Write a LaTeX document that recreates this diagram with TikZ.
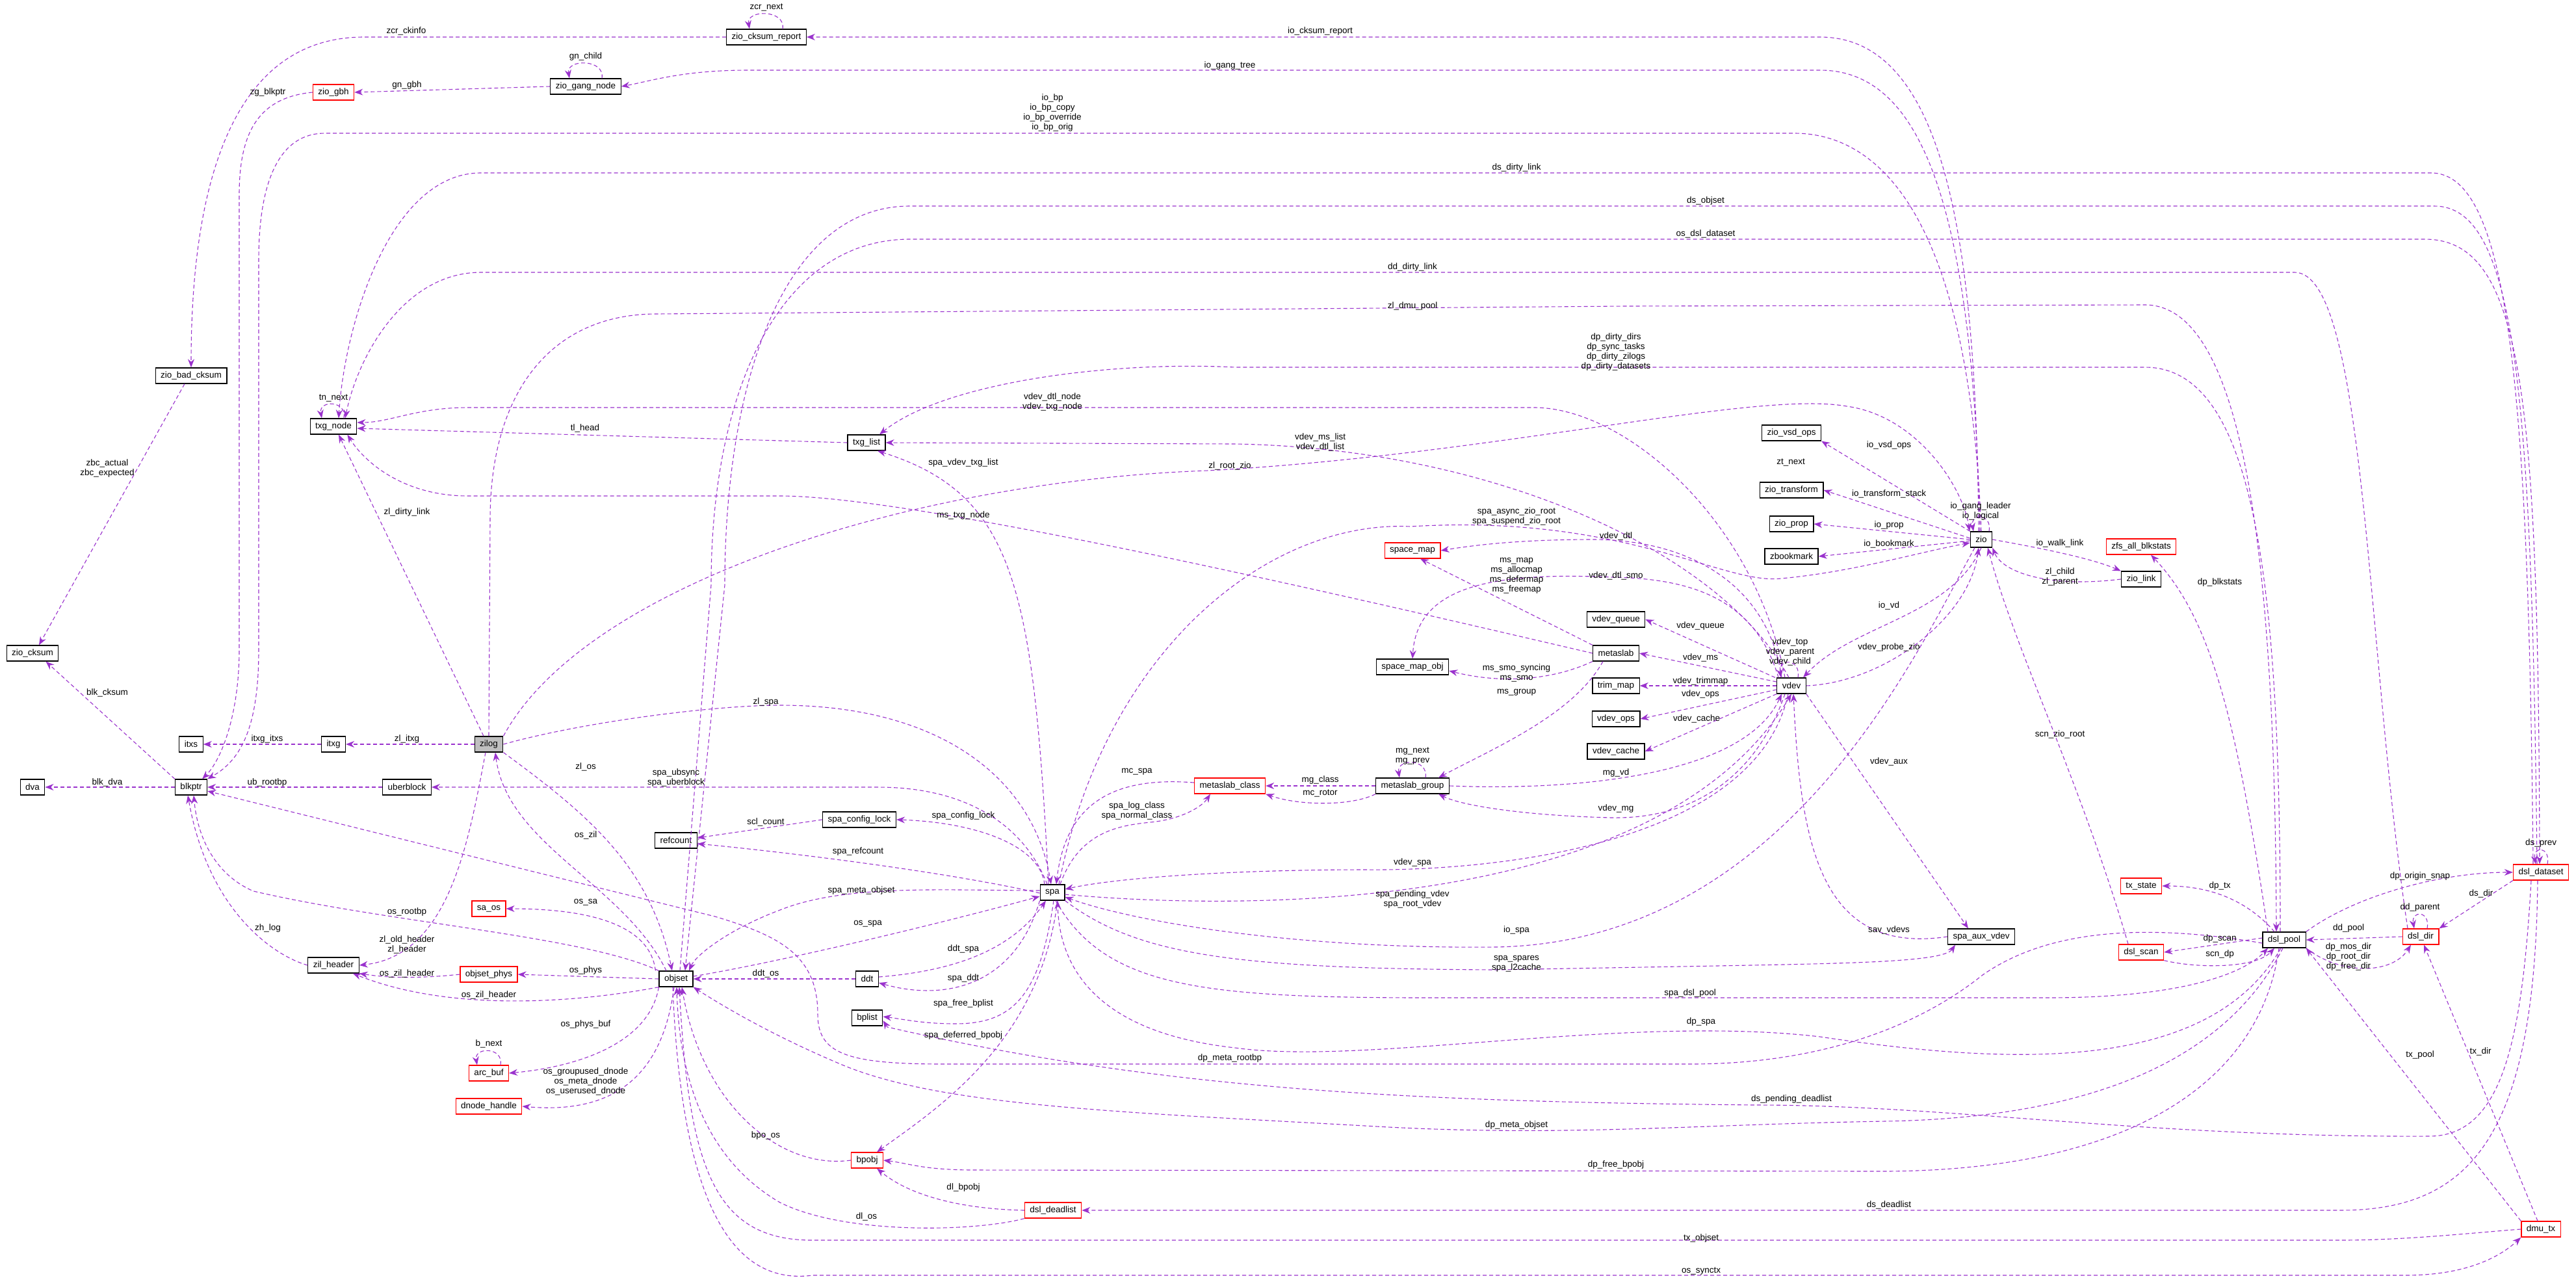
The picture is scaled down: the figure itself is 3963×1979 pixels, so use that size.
\documentclass[tikz,border=0pt]{standalone}
\usepackage{fontspec}
\setmainfont{Liberation Sans}
\usetikzlibrary{arrows.meta}
\definecolor{pc}{HTML}{9A32CD}
\newcommand\myfs{\fontsize{13.5}{15}\selectfont}
\tikzset{
 box/.style={draw=black, fill=white, font=\myfs, inner xsep=8pt, inner ysep=0pt, minimum height=24pt, line width=1.2pt},
 rbox/.style={box, draw=red},
 e/.style={draw=pc, dash pattern=on 6pt off 4pt, line width=1.1pt, -{Stealth[length=13pt,width=10pt]}},
 lb/.style={font=\myfs, inner sep=0pt, align=center}
}
\begin{document}
\begin{tikzpicture}[x=1pt,y=1pt]
\useasboundingbox (0,0) rectangle (3963,-1979);
% nodes
\node[box] (zcr) at (1179,-57) {zio\_cksum\_report};
\node[box] (zgn) at (901,-133) {zio\_gang\_node};
\node[rbox] (zgbh) at (513,-142) {zio\_gbh};
\node[box] (zbc) at (294,-578) {zio\_bad\_cksum};
\node[box] (txgn) at (513,-656) {txg\_node};
\node[box] (txgl) at (1333,-681) {txg\_list};
\node[box] (zcks) at (50,-1005) {zio\_cksum};
\node[box] (itxs) at (294,-1145) {itxs};
\node[box] (itxg) at (513,-1145) {itxg};
\node[box, fill=black!25] (zilog) at (752,-1145) {zilog};
\node[box] (dva) at (50,-1211) {dva};
\node[box] (blkptr) at (294,-1211) {blkptr};
\node[box] (ub) at (626,-1211) {uberblock};
\node[box] (refc) at (1040,-1293) {refcount};
\node[box] (scl) at (1322,-1261) {spa\_config\_lock};
\node[rbox] (saos) at (752,-1398) {sa\_os};
\node[box] (zilh) at (513,-1485) {zil\_header};
\node[rbox] (osphys) at (752,-1499) {objset\_phys};
\node[box] (objset) at (1040,-1506) {objset};
\node[rbox] (arcbuf) at (752,-1651) {arc\_buf};
\node[rbox] (dnh) at (752,-1702) {dnode\_handle};
\node[box] (ddt) at (1334,-1506) {ddt};
\node[box] (bplist) at (1334,-1566) {bplist};
\node[rbox] (bpobj) at (1334,-1785) {bpobj};
\node[rbox] (dldl) at (1620,-1862) {dsl\_deadlist};
\node[box] (spa) at (1619,-1373) {spa};
\node[rbox] (mcls) at (1892,-1209) {metaslab\_class};
\node[box] (mgrp) at (2173,-1209) {metaslab\_group};
\node[box] (smo) at (2173,-1026) {space\_map\_obj};
\node[box] (msl) at (2486,-1005) {metaslab};
\node[box] (trim) at (2486,-1055) {trim\_map};
\node[box] (vops) at (2486,-1106) {vdev\_ops};
\node[box] (vcache) at (2486,-1156) {vdev\_cache};
\node[rbox] (smap) at (2173,-847) {space\_map};
\node[box] (vqueue) at (2486,-953) {vdev\_queue};
\node[box] (zvsd) at (2756,-666) {zio\_vsd\_ops};
\node[box] (ztr) at (2756,-754) {zio\_transform};
\node[box] (zprop) at (2756,-806) {zio\_prop};
\node[box] (zbm) at (2756,-856) {zbookmark};
\node[box] (zio) at (3048,-830) {zio};
\node[rbox] (zfsbs) at (3294,-841) {zfs\_all\_blkstats};
\node[box] (zlink) at (3294,-891) {zio\_link};
\node[box] (vdev) at (2756,-1055) {vdev};
\node[box] (sav) at (3048,-1441) {spa\_aux\_vdev};
\node[rbox] (txst) at (3294,-1363) {tx\_state};
\node[rbox] (dscan) at (3294,-1465) {dsl\_scan};
\node[box] (dpool) at (3514,-1446) {dsl\_pool};
\node[rbox] (ddir) at (3724,-1441) {dsl\_dir};
\node[rbox] (dds) at (3909,-1342) {dsl\_dataset};
\node[rbox] (dmutx) at (3909,-1891) {dmu\_tx};

% edges
\draw[e] (zcr.west) -- (560,-57) .. controls (350,-57) and (294,-300) .. (zbc.north);
\draw[e] ([xshift=25pt]zcr.north) .. controls +(5,30) and +(-5,30) .. ([xshift=-26pt]zcr.north);
\draw[e] ([xshift=-4pt]zio.north) .. controls (3040,-400) and (3000,-57) .. (2800,-57) -- (zcr.east);
\draw[e] (zgn.west) -- (zgbh.east);
\draw[e] ([xshift=25pt]zgn.north) .. controls +(5,30) and +(-5,30) .. ([xshift=-25pt]zgn.north);
\draw[e] ([xshift=-2pt]zio.north) .. controls (3035,-300) and (2950,-108) .. (2800,-108) -- (1150,-108) .. controls (1050,-108) and (1000,-125) .. (zgn.east);
\draw[e] (zgbh.west) .. controls (400,-150) and (368,-200) .. (368,-300) -- (368,-1000) .. controls (368,-1100) and (340,-1170) .. ([xshift=-8pt]blkptr.north east);
\draw[e] (zio.north) .. controls (3030,-350) and (2900,-205) .. (2760,-205) -- (500,-205) .. controls (420,-205) and (398,-300) .. (398,-400) -- (398,-1000) .. controls (398,-1120) and (370,-1170) .. (blkptr.north east);
\draw[e] ([xshift=-12pt]dds.north) .. controls (3890,-600) and (3860,-266) .. (3740,-266) -- (740,-266) .. controls (600,-266) and (530,-500) .. ([xshift=8pt]txgn.north);
\draw[e] ([xshift=-6pt]dds.north) .. controls (3895,-600) and (3870,-317) .. (3745,-317) -- (1400,-317) .. controls (1200,-317) and (1115,-600) .. (1115,-900) -- ([xshift=14pt]objset.north);
\draw[e] ([xshift=6pt]objset.north) -- (1094,-900) .. controls (1094,-600) and (1200,-368) .. (1400,-368) -- (3730,-368) .. controls (3880,-368) and (3905,-600) .. ([xshift=-2pt]dds.north);
\draw[e] ([xshift=-20pt]ddir.north) .. controls (3640,-1000) and (3640,-419) .. (3530,-419) -- (740,-419) .. controls (620,-419) and (550,-550) .. ([xshift=18pt]txgn.north);
\draw[e] (zilog.north) -- (754,-800) .. controls (754,-600) and (850,-483) .. (1010,-483) -- (2500,-471) -- (3300,-469) .. controls (3460,-469) and (3500,-900) .. ([xshift=-12pt]dpool.north);
\draw[e] ([xshift=-6pt]dpool.north) .. controls (3508,-900) and (3470,-565) .. (3300,-565) -- (1900,-565) .. controls (1700,-555) and (1450,-590) .. ([xshift=20pt]txgl.north);
\draw[e] ([xshift=-10pt]vdev.north) .. controls (2700,-800) and (2500,-627) .. (2360,-627) -- (720,-627) .. controls (640,-627) and (600,-650) .. ([yshift=6pt]txgn.east);
\draw[e] ([xshift=-4pt]vdev.north) .. controls (2650,-850) and (2300,-690) .. (1900,-683) -- (txgl.east);
\draw[e] (txgl.west) -- ([yshift=-3pt]txgn.east);
\draw[e] ([xshift=16pt]txgn.north) .. controls +(5,28) and +(-5,28) .. ([xshift=-18pt]txgn.north);
\draw[e] ([xshift=-6pt]spa.north) .. controls (1590,-900) and (1560,-760) .. ([xshift=17pt]txgl.south);
\draw[e] (zilog.north east) .. controls (900,-900) and (1400,-740) .. (1858,-724) .. controls (2300,-700) and (2700,-600) .. (2841,-625) .. controls (2950,-640) and (3020,-750) .. ([xshift=-18pt]zio.north);
\draw[e] (msl.west) .. controls (2000,-900) and (1400,-763) .. (1200,-763) -- (720,-763) .. controls (620,-763) and (560,-710) .. ([xshift=-15pt]txgn.south east);
\draw[e] ([xshift=-8pt]zilog.north) -- ([xshift=8pt]txgn.south);
\draw[e] ([xshift=10pt]spa.north) .. controls (1700,-1000) and (1950,-800) .. (2170,-810) .. controls (2500,-790) and (2650,-900) .. (2740,-890) .. controls (2850,-880) and (2950,-850) .. ([yshift=-5pt]zio.west);
\draw[e] ([xshift=-15pt]vdev.north) .. controls (2720,-900) and (2600,-830) .. (2450,-830) .. controls (2330,-830) and (2260,-840) .. (smap.east);
\draw[e] (msl.north west) -- ([xshift=12pt]smap.south);
\draw[e] ([xshift=-20pt]vdev.north) .. controls (2700,-920) and (2600,-890) .. (2480,-888) .. controls (2300,-880) and (2180,-900) .. (smo.north);
\draw[e] ([xshift=-25pt]vdev.north) -- (vqueue.east);
\draw[e] (msl.south west) .. controls (2380,-1050) and (2300,-1050) .. ([yshift=-6pt]smo.east);
\draw[e] ([yshift=6pt]vdev.west) -- (msl.east);
\draw[e] (vdev.west) -- (trim.east);
\draw[e] ([yshift=-6pt]vdev.west) -- (vops.east);
\draw[e] (vdev.south west) -- (vcache.east);
\draw[e] ([xshift=-20pt]msl.south) .. controls (2420,-1100) and (2300,-1150) .. ([xshift=40pt]mgrp.north);
\draw[e] ([xshift=-10pt]vdev.south) .. controls (2700,-1200) and (2600,-1260) .. (2480,-1258) .. controls (2350,-1255) and (2250,-1240) .. ([xshift=40pt]mgrp.south);
\draw[e] (mgrp.east) .. controls (2400,-1216) and (2680,-1200) .. ([xshift=-15pt]vdev.south);
\draw[e] ([xshift=20pt]mgrp.north) .. controls +(5,30) and +(-5,30) .. ([xshift=-20pt]mgrp.north);
\draw[e] (mgrp.west) -- (mcls.east);
\draw[e] (mgrp.south west) .. controls (2080,-1240) and (2000,-1240) .. (mcls.south east);
\draw[e] ([yshift=5pt]mcls.west) .. controls (1720,-1195) and (1640,-1230) .. ([xshift=6pt]spa.north);
\draw[e] ([xshift=12pt]spa.north) .. controls (1660,-1280) and (1720,-1270) .. (1770,-1265) .. controls (1820,-1260) and (1850,-1240) .. ([xshift=-30pt]mcls.south);
\draw[e] ([xshift=-5pt]vdev.south) .. controls (2700,-1300) and (2300,-1340) .. (2100,-1338) .. controls (1900,-1338) and (1720,-1350) .. ([yshift=5pt]spa.east);
\draw[e] ([yshift=-3pt]spa.east) .. controls (1900,-1400) and (2550,-1410) .. (vdev.south);
\draw[e] ([xshift=-10pt]zio.south) .. controls (2950,-1000) and (2750,-1450) .. (2300,-1457) .. controls (2000,-1460) and (1750,-1420) .. ([yshift=-7pt]spa.east);
\draw[e] (spa.south east) .. controls (1750,-1470) and (1900,-1490) .. (2300,-1492) -- (2640,-1486) .. controls (2850,-1482) and (2990,-1480) .. ([xshift=-40pt]sav.south);
\draw[e] (sav.west) .. controls (2800,-1470) and (2770,-1300) .. ([xshift=3pt]vdev.south);
\draw[e] (vdev.south east) -- ([xshift=-20pt]sav.north);
\draw[e] ([xshift=10pt]vdev.north) .. controls +(5,30) and +(-5,30) .. ([xshift=-16pt]vdev.north);
\draw[e] (zio.south) .. controls (3000,-950) and (2850,-960) .. ([xshift=18pt]vdev.north);
\draw[e] (vdev.east) .. controls (2900,-1050) and (3030,-950) .. ([xshift=-4pt]zio.south);
\draw[e] ([xshift=12pt]zio.north) .. controls +(5,28) and +(-5,28) .. ([xshift=-12pt]zio.north);
\draw[e] (zio.north west) -- (zvsd.south east);
\draw[e] ([yshift=2pt]zio.west) -- (ztr.east);
\draw[e] (zio.west) -- (zprop.east);
\draw[e] ([yshift=-2pt]zio.west) -- (zbm.east);
\draw[e] (zio.east) .. controls (3150,-845) and (3220,-860) .. (zlink.north west);
\draw[e] (zlink.west) .. controls (3150,-905) and (3080,-880) .. (zio.south east);
\draw[e] ([xshift=-25pt]dpool.north) .. controls (3440,-1100) and (3400,-950) .. ([xshift=15pt]zfsbs.south);
\draw[e] ([xshift=-20pt]dscan.north) .. controls (3200,-1200) and (3100,-1000) .. ([xshift=10pt]zio.south);
\draw[e] ([xshift=-15pt]dpool.north) .. controls (3470,-1400) and (3420,-1363) .. (txst.east);
\draw[e] ([yshift=3pt]dpool.west) -- (dscan.east);
\draw[e] (dscan.south east) .. controls (3380,-1490) and (3470,-1490) .. ([xshift=-15pt]dpool.south);
\draw[e] (dpool.north east) .. controls (3620,-1380) and (3750,-1342) .. (dds.west);
\draw[e] (dds.south west) -- (ddir.north east);
\draw[e] ([xshift=10pt]ddir.north) .. controls +(5,28) and +(-5,28) .. ([xshift=-10pt]ddir.north);
\draw[e] (ddir.west) -- (dpool.east);
\draw[e] (dpool.south east) .. controls (3600,-1500) and (3680,-1500) .. ([xshift=-15pt]ddir.south);
\draw[e] ([xshift=10pt]dds.north) .. controls +(5,28) and +(-5,28) .. ([xshift=-8pt]dds.north);
\draw[e] (dmutx.north west) -- (dpool.south east);
\draw[e] ([xshift=-5pt]dmutx.north) -- ([xshift=5pt]ddir.south);
\draw[e] ([xshift=5pt]spa.south) .. controls (1700,-1520) and (1850,-1535) .. (2200,-1535) -- (3150,-1535) .. controls (3350,-1535) and (3450,-1500) .. ([xshift=-25pt]dpool.south);
\draw[e] ([xshift=-5pt]dpool.south) .. controls (3400,-1650) and (3100,-1640) .. (2800,-1595) .. controls (2500,-1560) and (2100,-1640) .. (1900,-1612) .. controls (1700,-1590) and (1630,-1500) .. ([xshift=8pt]spa.south);
\draw[e] ([yshift=-5pt]dpool.west) .. controls (3300,-1420) and (3150,-1430) .. (3050,-1500) .. controls (2950,-1580) and (2800,-1637) .. (2600,-1637) -- (1450,-1637) .. controls (1300,-1637) and (1258,-1620) .. (1258,-1560) .. controls (1258,-1470) and (1200,-1440) .. (1100,-1410) -- ([yshift=-6pt]blkptr.east);
\draw[e] ([xshift=-2pt]dpool.south) .. controls (3420,-1640) and (3200,-1720) .. (2900,-1725) .. controls (2600,-1730) and (2400,-1750) .. (2100,-1732) .. controls (1700,-1710) and (1450,-1700) .. (1300,-1640) .. controls (1180,-1590) and (1100,-1540) .. (objset.south east);
\draw[e] ([xshift=-15pt]dds.south) .. controls (3880,-1600) and (3850,-1748) .. (3737,-1748) .. controls (3300,-1750) and (3000,-1700) .. (2700,-1700) .. controls (2200,-1695) and (1800,-1680) .. (1365,-1580) -- ([yshift=-4pt]bplist.east);
\draw[e] ([xshift=-8pt]dpool.south) .. controls (3480,-1650) and (3300,-1800) .. (2900,-1802) -- (1500,-1800) .. controls (1420,-1800) and (1400,-1790) .. (bpobj.east);
\draw[e] ([xshift=-5pt]dds.south) .. controls (3900,-1750) and (3800,-1862) .. (3600,-1862) -- (dldl.east);
\draw[e] (dmutx.west) .. controls (3800,-1897) and (3700,-1908) .. (3600,-1908) -- (1250,-1908) .. controls (1100,-1908) and (1060,-1800) .. ([xshift=5pt]objset.south);
\draw[e] ([xshift=-5pt]objset.south) .. controls (1050,-1900) and (1150,-1975) .. (1250,-1962) -- (3700,-1962) .. controls (3800,-1962) and (3850,-1930) .. (dmutx.south west);
\draw[e] (dldl.west) .. controls (1480,-1860) and (1400,-1840) .. ([xshift=-10pt]bpobj.south east);
\draw[e] (dldl.south west) .. controls (1500,-1895) and (1300,-1900) .. (1200,-1850) .. controls (1080,-1780) and (1045,-1650) .. ([xshift=1pt]objset.south);
\draw[e] (bpobj.west) .. controls (1200,-1800) and (1080,-1700) .. ([xshift=9pt]objset.south);
\draw[e] ([xshift=8pt]spa.south) .. controls (1600,-1600) and (1450,-1700) .. ([xshift=15pt]bpobj.north);
\draw[e] ([xshift=2pt]spa.south) .. controls (1600,-1530) and (1560,-1575) .. (1470,-1575) .. controls (1420,-1575) and (1390,-1568) .. ([yshift=2pt]bplist.east);
\draw[e] (spa.south west) .. controls (1560,-1520) and (1450,-1540) .. ([yshift=-6pt]ddt.east);
\draw[e] ([yshift=3pt]ddt.east) .. controls (1450,-1495) and (1550,-1470) .. ([xshift=-10pt]spa.south);
\draw[e] (ddt.west) -- (objset.east);
\draw[e] ([yshift=4pt]objset.east) .. controls (1200,-1480) and (1450,-1420) .. ([yshift=-6pt]spa.west);
\draw[e] ([yshift=3pt]spa.west) .. controls (1450,-1370) and (1300,-1360) .. (1200,-1400) .. controls (1120,-1430) and (1070,-1470) .. ([xshift=20pt]objset.north);
\draw[e] ([yshift=-1pt]spa.west) .. controls (1450,-1340) and (1200,-1310) .. ([yshift=-5pt]refc.east);
\draw[e] (scl.west) -- ([yshift=4pt]refc.east);
\draw[e] ([xshift=-12pt]spa.north) .. controls (1600,-1300) and (1500,-1265) .. (scl.east);
\draw[e] ([xshift=-8pt]spa.north) .. controls (1580,-1280) and (1500,-1211) .. (1350,-1211) -- (ub.east);
\draw[e] (zilog.east) .. controls (900,-1110) and (1100,-1085) .. (1200,-1085) .. controls (1450,-1085) and (1590,-1200) .. ([xshift=-2pt]spa.north);
\draw[e] (zilog.south east) .. controls (900,-1250) and (1000,-1330) .. ([xshift=-6pt]objset.north);
\draw[e] ([xshift=-15pt]objset.north) .. controls (960,-1360) and (780,-1300) .. ([xshift=10pt]zilog.south);
\draw[e] ([xshift=-5pt]objset.north west) .. controls (1000,-1420) and (900,-1398) .. (saos.east);
\draw[e] (objset.west) -- (osphys.east);
\draw[e] (objset.south west) .. controls (900,-1540) and (700,-1560) .. ([xshift=-10pt]zilh.south east);
\draw[e] (osphys.west) .. controls (650,-1505) and (600,-1505) .. (zilh.south east);
\draw[e] (objset.south west) .. controls (1000,-1600) and (900,-1640) .. (arcbuf.east);
\draw[e] ([xshift=18pt]arcbuf.north) .. controls +(5,28) and +(-5,28) .. ([xshift=-18pt]arcbuf.north);
\draw[e] ([xshift=-3pt]objset.south) .. controls (1020,-1650) and (950,-1715) .. (dnh.east);
\draw[e] (objset.north west) .. controls (900,-1440) and (600,-1420) .. (390,-1371) .. controls (340,-1350) and (305,-1300) .. ([xshift=4pt]blkptr.south);
\draw[e] (zilh.west) .. controls (420,-1470) and (320,-1400) .. ([xshift=-5pt]blkptr.south);
\draw[e] ([xshift=-5pt]zilog.south) .. controls (720,-1300) and (690,-1470) .. (zilh.east);
\draw[e] (ub.west) -- (blkptr.east);
\draw[e] (blkptr.west) -- (dva.east);
\draw[e] (blkptr.north west) -- ([xshift=-20pt]zcks.south east);
\draw[e] ([xshift=-10pt]zbc.south) -- ([xshift=10pt]zcks.north);
\draw[e] (zilog.west) -- (itxg.east);
\draw[e] (itxg.west) -- (itxs.east);

% labels
\node[lb] (l1) at (1179,-11) {zcr\_next};
\node[lb] (l2) at (625,-48) {zcr\_ckinfo};
\node[lb] (l3) at (901,-87) {gn\_child};
\node[lb] (l4) at (626,-131) {gn\_gbh};
\node[lb] (l5) at (412,-142) {zg\_blkptr};
\node[lb] (l6) at (513,-612) {tn\_next};
\node[lb] (l7) at (900,-659) {tl\_head};
\node[lb] (l8) at (626,-788) {zl\_dirty\_link};
\node[lb] (l9) at (165,-720) {zbc\_actual\\zbc\_expected};
\node[lb] (l10) at (165,-1066) {blk\_cksum};
\node[lb] (l11) at (411,-1137) {itxg\_itxs};
\node[lb] (l12) at (626,-1137) {zl\_itxg};
\node[lb] (l13) at (165,-1204) {blk\_dva};
\node[lb] (l14) at (411,-1204) {ub\_rootbp};
\node[lb] (l15) at (1178,-1080) {zl\_spa};
\node[lb] (l16) at (901,-1180) {zl\_os};
\node[lb] (l17) at (1040,-1196) {spa\_ubsync\\spa\_uberblock};
\node[lb] (l18) at (1178,-1265) {scl\_count};
\node[lb] (l19) at (901,-1285) {os\_zil};
\node[lb] (l20) at (901,-1388) {os\_sa};
\node[lb] (l21) at (626,-1403) {os\_rootbp};
\node[lb] (l22) at (412,-1428) {zh\_log};
\node[lb] (l23) at (626,-1453) {zl\_old\_header\\zl\_header};
\node[lb] (l24) at (626,-1498) {os\_zil\_header};
\node[lb] (l25) at (901,-1493) {os\_phys};
\node[lb] (l26) at (752,-1531) {os\_zil\_header};
\node[lb] (l27) at (1178,-1498) {ddt\_os};
\node[lb] (l28) at (901,-1576) {os\_phys\_buf};
\node[lb] (l29) at (752,-1606) {b\_next};
\node[lb] (l30) at (901,-1664) {os\_groupused\_dnode\\os\_meta\_dnode\\os\_userused\_dnode};
\node[lb] (l31) at (1178,-1747) {bpo\_os};
\node[lb] (l32) at (1749,-1187) {mc\_spa};
\node[lb] (l33) at (1749,-1247) {spa\_log\_class\\spa\_normal\_class};
\node[lb] (l34) at (1482,-1255) {spa\_config\_lock};
\node[lb] (l35) at (2031,-1200) {mg\_class};
\node[lb] (l36) at (2031,-1220) {mc\_rotor};
\node[lb] (l37) at (2173,-1163) {mg\_next\\mg\_prev};
\node[lb] (l38) at (2333,-1035) {ms\_smo\_syncing\\ms\_smo};
\node[lb] (l39) at (2333,-1065) {ms\_group};
\node[lb] (l40) at (2486,-1189) {mg\_vd};
\node[lb] (l41) at (2486,-1244) {vdev\_mg};
\node[lb] (l42) at (2173,-1327) {vdev\_spa};
\node[lb] (l43) at (2173,-1383) {spa\_pending\_vdev\\spa\_root\_vdev};
\node[lb] (l44) at (2333,-1431) {io\_spa};
\node[lb] (l45) at (2333,-1483) {spa\_spares\\spa\_l2cache};
\node[lb] (l46) at (1482,-1460) {ddt\_spa};
\node[lb] (l47) at (1482,-1505) {spa\_ddt};
\node[lb] (l48) at (1482,-1544) {spa\_free\_bplist};
\node[lb] (l49) at (1482,-1593) {spa\_deferred\_bpobj};
\node[lb] (l50) at (1892,-1628) {dp\_meta\_rootbp};
\node[lb] (l51) at (2333,-1731) {dp\_meta\_objset};
\node[lb] (l52) at (2486,-1792) {dp\_free\_bpobj};
\node[lb] (l53) at (1482,-1827) {dl\_bpobj};
\node[lb] (l54) at (1333,-1872) {dl\_os};
\node[lb] (l55) at (1320,-1310) {spa\_refcount};
\node[lb] (l56) at (1325,-1370) {spa\_meta\_objset};
\node[lb] (l57) at (1335,-1421) {os\_spa};
\node[lb] (l58) at (1482,-712) {spa\_vdev\_txg\_list};
\node[lb] (l59) at (1482,-793) {ms\_txg\_node};
\node[lb] (l60) at (1892,-717) {zl\_root\_zio};
\node[lb] (l61) at (2031,-680) {vdev\_ms\_list\\vdev\_dtl\_list};
\node[lb] (l62) at (1619,-618) {vdev\_dtl\_node\\vdev\_txg\_node};
\node[lb] (l63) at (2486,-541) {dp\_dirty\_dirs\\dp\_sync\_tasks\\dp\_dirty\_zilogs\\dp\_dirty\_datasets};
\node[lb] (l64) at (2173,-471) {zl\_dmu\_pool};
\node[lb] (l65) at (2173,-411) {dd\_dirty\_link};
\node[lb] (l66) at (2624,-360) {os\_dsl\_dataset};
\node[lb] (l67) at (2624,-309) {ds\_objset};
\node[lb] (l68) at (2333,-258) {ds\_dirty\_link};
\node[lb] (l69) at (1619,-174) {io\_bp\\io\_bp\_copy\\io\_bp\_override\\io\_bp\_orig};
\node[lb] (l70) at (1892,-101) {io\_gang\_tree};
\node[lb] (l71) at (2031,-48) {io\_cksum\_report};
\node[lb] (l72) at (2333,-794) {spa\_async\_zio\_root\\spa\_suspend\_zio\_root};
\node[lb] (l73) at (2486,-825) {vdev\_dtl};
\node[lb] (l74) at (2333,-886) {ms\_map\\ms\_allocmap\\ms\_defermap\\ms\_freemap};
\node[lb] (l75) at (2486,-886) {vdev\_dtl\_smo};
\node[lb] (l76) at (2616,-963) {vdev\_queue};
\node[lb] (l77) at (2616,-1012) {vdev\_ms};
\node[lb] (l78) at (2616,-1048) {vdev\_trimmap};
\node[lb] (l79) at (2616,-1068) {vdev\_ops};
\node[lb] (l80) at (2610,-1106) {vdev\_cache};
\node[lb] (l81) at (2754,-1003) {vdev\_top\\vdev\_parent\\vdev\_child};
\node[lb] (l82) at (2906,-932) {io\_vd};
\node[lb] (l83) at (2906,-996) {vdev\_probe\_zio};
\node[lb] (l84) at (2906,-685) {io\_vsd\_ops};
\node[lb] (l85) at (2755,-711) {zt\_next};
\node[lb] (l86) at (2906,-760) {io\_transform\_stack};
\node[lb] (l87) at (3047,-786) {io\_gang\_leader\\io\_logical};
\node[lb] (l88) at (2906,-808) {io\_prop};
\node[lb] (l89) at (2906,-837) {io\_bookmark};
\node[lb] (l90) at (3169,-836) {io\_walk\_link};
\node[lb] (l91) at (3169,-887) {zl\_child\\zl\_parent};
\node[lb] (l92) at (3415,-896) {dp\_blkstats};
\node[lb] (l93) at (3169,-1130) {scn\_zio\_root};
\node[lb] (l94) at (2906,-1172) {vdev\_aux};
\node[lb] (l95) at (2906,-1431) {sav\_vdevs};
\node[lb] (l96) at (3909,-1297) {ds\_prev};
\node[lb] (l97) at (3723,-1348) {dp\_origin\_snap};
\node[lb] (l98) at (3817,-1375) {ds\_dir};
\node[lb] (l99) at (3723,-1396) {dd\_parent};
\node[lb] (l100) at (3415,-1363) {dp\_tx};
\node[lb] (l101) at (3613,-1428) {dd\_pool};
\node[lb] (l102) at (3415,-1444) {dp\_scan};
\node[lb] (l103) at (3415,-1468) {scn\_dp};
\node[lb] (l104) at (3613,-1472) {dp\_mos\_dir\\dp\_root\_dir\\dp\_free\_dir};
\node[lb] (l105) at (3723,-1623) {tx\_pool};
\node[lb] (l106) at (3816,-1618) {tx\_dir};
\node[lb] (l107) at (2756,-1691) {ds\_pending\_deadlist};
\node[lb] (l108) at (2906,-1854) {ds\_deadlist};
\node[lb] (l109) at (2600,-1528) {spa\_dsl\_pool};
\node[lb] (l110) at (2617,-1572) {dp\_spa};
\node[lb] (l111) at (2617,-1905) {tx\_objset};
\node[lb] (l112) at (2617,-1956) {os\_synctx};
\end{tikzpicture}
\end{document}
